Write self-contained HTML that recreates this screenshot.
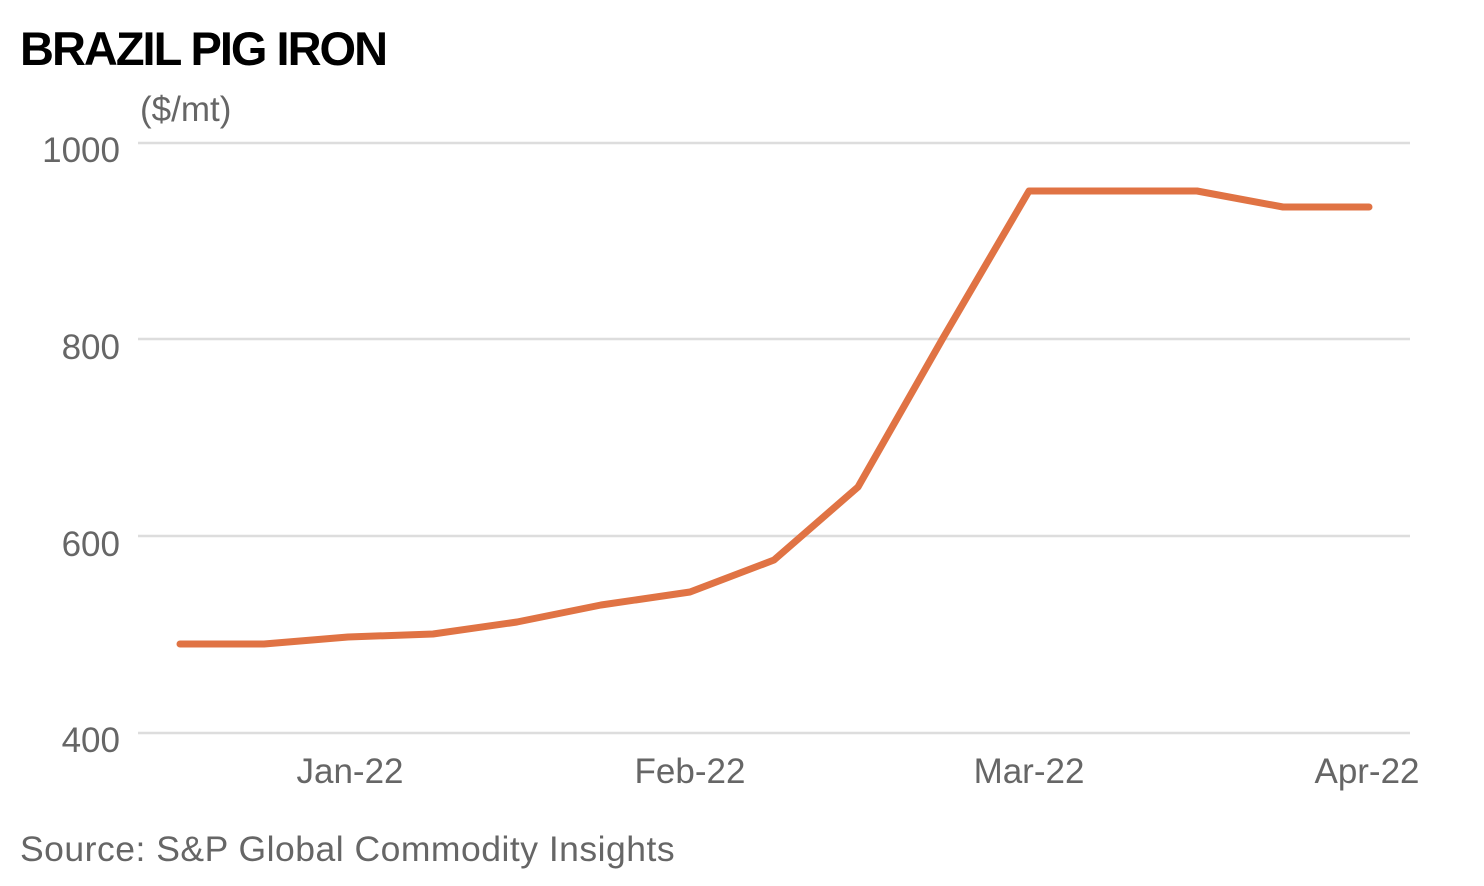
<!DOCTYPE html>
<html><head><style>
body{margin:0;background:#fff;}
svg{display:block;font-family:"Liberation Sans",sans-serif;}
</style></head><body>
<svg width="1484" height="886" viewBox="0 0 1484 886">
<text x="20" y="65" font-size="47" font-weight="bold" fill="#000" letter-spacing="-2">BRAZIL PIG IRON</text>
<text x="140" y="121" font-size="35" fill="#666">($/mt)</text>
<g stroke="#ddd" stroke-width="2.5">
<line x1="138" y1="143" x2="1410" y2="143"/>
<line x1="138" y1="339" x2="1410" y2="339"/>
<line x1="138" y1="536" x2="1410" y2="536"/>
<line x1="138" y1="733" x2="1410" y2="733"/>
</g>
<g font-size="35" fill="#666" text-anchor="end">
<text x="120" y="162">1000</text>
<text x="120" y="359">800</text>
<text x="120" y="556">600</text>
<text x="120" y="752">400</text>
</g>
<g font-size="35" fill="#666" text-anchor="middle">
<text x="350" y="783">Jan-22</text>
<text x="690" y="783">Feb-22</text>
<text x="1029" y="783">Mar-22</text>
<text x="1367" y="783">Apr-22</text>
</g>
<polyline fill="none" stroke="#e07344" stroke-width="7" stroke-linejoin="round" stroke-linecap="round"
points="180,644 264,644 348,637 433,634 517,622 601,605 690,592 774,560 858,487 943,338 1029,191 1113,191 1197,191 1283,207 1369,207"/>
<text x="20" y="861" font-size="35.5" fill="#666" letter-spacing="0.5">Source: S&amp;P Global Commodity Insights</text>
</svg>
</body></html>
